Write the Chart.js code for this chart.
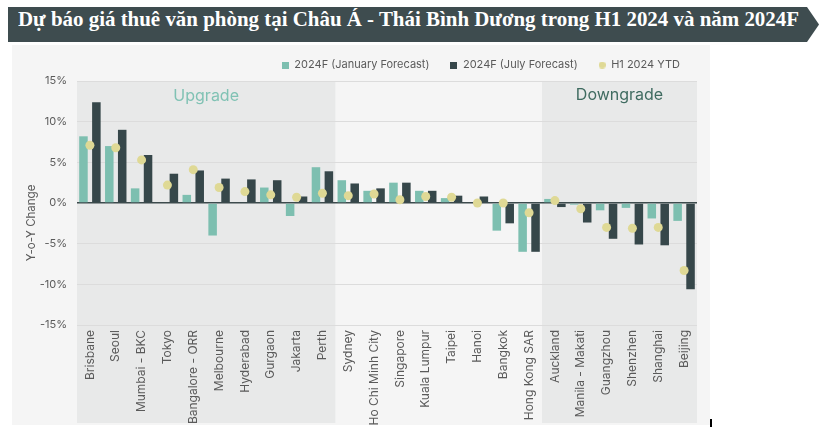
<!DOCTYPE html>
<html lang="vi">
<head>
<meta charset="utf-8">
<title>Dự báo giá thuê văn phòng</title>
<script src="https://cdn.jsdelivr.net/npm/chart.js@4.4.1/dist/chart.umd.min.js"></script>
<style>
    html, body { margin: 0; padding: 0; background: #fff; }
    body { width: 826px; height: 427px; position: relative; overflow: hidden; }
    #title-bar {
        position: absolute; left: 8px; top: 7px; width: 811px; height: 35px;
        background: #3e4c4f;
        clip-path: polygon(0 0, 799px 0, 811px 50%, 799px 100%, 0 100%);
    }
    #title-text {
        position: absolute; left: 10px; top: 0; line-height: 35px;
        color: #fff; font: bold 21px "Liberation Serif", "Times New Roman", serif;
        white-space: nowrap; transform-origin: 0 0;
    }
    #panel { position: absolute; left: 12px; top: 45px; width: 698px; height: 380px; background: #f5f5f5; }
    #chart-prodi { position: absolute; left: 0; top: 0; }
    #mark { position: absolute; left: 710px; top: 419px; width: 2px; height: 8px; background: #000; }
</style>
</head>
<body>
<div id="title-bar"><span id="title-text">Dự báo giá thuê văn phòng tại Châu Á - Thái Bình Dương trong H1 2024 và năm 2024F</span></div>
<div id="panel"></div>
<canvas id="chart-prodi" width="826" height="427"></canvas>
<div id="mark"></div>
<script>
const cities = [
    "Brisbane", "Seoul", "Mumbai - BKC", "Tokyo", "Bangalore - ORR", "Melbourne",
    "Hyderabad", "Gurgaon", "Jakarta", "Perth", "Sydney", "Ho Chi Minh City",
    "Singapore", "Kuala Lumpur", "Taipei", "Hanoi", "Bangkok", "Hong Kong SAR",
    "Auckland", "Manila - Makati", "Guangzhou", "Shenzhen", "Shanghai", "Beijing",
];
const janForecast = [8.2, 7.0, 1.8, 0, 1.0, -4.0, 0, 1.9, -1.6, 4.4, 2.8, 1.5, 2.5, 1.5, 0.6, 0, -3.4, -6.0, 0.5, -0.2, -0.9, -0.6, -1.9, -2.2];
const julyForecast = [12.4, 9.0, 5.9, 3.6, 4.0, 3.0, 2.9, 2.8, 0.8, 3.9, 2.4, 1.8, 2.5, 1.5, 0.9, 0.8, -2.5, -6.0, -0.5, -2.4, -4.4, -5.1, -5.2, -10.6];
const h1Ytd = [7.1, 6.8, 5.3, 2.2, 4.1, 1.9, 1.4, 1.0, 0.7, 1.2, 0.9, 1.1, 0.4, 0.8, 0.7, 0.0, 0.0, -1.2, 0.3, -0.7, -3.0, -3.1, -3.0, -8.3];
const seriesNames = ["2024F (January Forecast)", "2024F (July Forecast)", "H1 2024 YTD"];
const yTicks = [-15, -10, -5, 0, 5, 10, 15];
// nhóm: số thành phố đầu là Upgrade, cuối là Downgrade
const upgradeCount = 10;
const downgradeCount = 6;

const colTeal = "#7dbfb0";
const colDark = "#36474a";
const colDot = "#dfd995";
const colText = "#5a5a5a";
const fontName = "Inter";

// fit tiêu đề vào đúng bề rộng
const titleText = document.getElementById("title-text");
titleText.style.transform = `scaleX(${781 / titleText.getBoundingClientRect().width})`;

function legendIcon(color, round) {
    const c = document.createElement("canvas");
    c.width = 7;
    c.height = 7;
    const g = c.getContext("2d");
    g.fillStyle = color;
    if (round) {
        g.beginPath();
        g.arc(3.5, 3.5, 3.5, 0, Math.PI * 2);
        g.fill();
    } else {
        g.fillRect(0, 0, 7, 7);
    }
    return c;
}
const legendIcons = [legendIcon(colTeal), legendIcon(colDark), legendIcon(colDot, true)];

const regions = {
    id: "regions",
    beforeInit(chart) {
        const fit = chart.legend.fit;
        chart.legend.fit = function () {
            fit.call(this);
            this.height = 42.5;
        };
    },
    afterLayout(chart) {
        chart.legend.left += 4;
        chart.legend.right += 4;
    },
    beforeDraw(chart) {
        const { ctx, chartArea, scales } = chart;
        const step = chartArea.width / cities.length;
        const x0 = scales.x.getPixelForValue(0) - step / 2;
        const xd = scales.x.getPixelForValue(cities.length - downgradeCount) - step / 2;
        ctx.save();
        ctx.fillStyle = "#e8e9e9";
        ctx.fillRect(x0, chartArea.top, step * upgradeCount, 423 - chartArea.top);
        ctx.fillRect(xd, chartArea.top, step * downgradeCount, 423 - chartArea.top);
        ctx.restore();
    },
    afterDraw(chart) {
        const { ctx, chartArea, scales } = chart;
        const step = chartArea.width / cities.length;
        const x0 = scales.x.getPixelForValue(0) - step / 2;
        const xd = scales.x.getPixelForValue(cities.length - downgradeCount) - step / 2;
        ctx.save();
        ctx.textAlign = "center";
        ctx.textBaseline = "middle";
        ctx.font = "16px " + fontName;
        ctx.fillStyle = "#80c2b4";
        ctx.fillText("Upgrade", x0 + step * upgradeCount / 2, 96);
        ctx.fillStyle = "#3f6b60";
        ctx.fillText("Downgrade", xd + step * downgradeCount / 2, 95);

        ctx.translate(32, 223);
        ctx.rotate(-Math.PI / 2);
        ctx.font = "11.5px " + fontName;
        ctx.fillStyle = colText;
        ctx.fillText("Y-o-Y Change", 0, 0);
        ctx.restore();
    },
};

new Chart(document.getElementById("chart-prodi"), {
    type: "bar",
    data: {
        labels: cities,
        datasets: [
            {
                label: seriesNames[0],
                data: janForecast,
                backgroundColor: colTeal,
                order: 2,
            },
            {
                label: seriesNames[1],
                data: julyForecast,
                backgroundColor: colDark,
                order: 2,
            },
            {
                type: "line",
                label: seriesNames[2],
                data: h1Ytd,
                showLine: false,
                pointRadius: 4.5,
                pointBorderWidth: 0,
                pointBackgroundColor: colDot,
                backgroundColor: colDot,
                order: 1,
            },
        ],
    },
    options: {
        responsive: false,
        animation: false,
        devicePixelRatio: 1,
        layout: { padding: { top: 38.5, right: 129, bottom: 0, left: 0 } },
        datasets: {
            bar: { categoryPercentage: 1, barPercentage: 0.66, borderWidth: 0 },
        },
        plugins: {
            tooltip: { enabled: false },
            legend: {
                position: "top",
                align: "end",
                labels: {
                    usePointStyle: true,
                    boxWidth: 7,
                    boxHeight: 7,
                    padding: 21,
                    color: colText,
                    font: { family: fontName, size: 11 },
                    generateLabels(chart) {
                        const items = Chart.defaults.plugins.legend.labels.generateLabels(chart);
                        items.sort((a, b) => a.datasetIndex - b.datasetIndex);
                        items.forEach(it => { it.pointStyle = legendIcons[it.datasetIndex]; });
                        return items;
                    },
                },
            },
        },
        scales: {
            x: {
                afterFit(scale) { scale.height = 102; },
                grid: { display: false, drawTicks: false },
                border: { display: false },
                ticks: {
                    autoSkip: false,
                    minRotation: 90,
                    maxRotation: 90,
                    padding: 5,
                    color: colText,
                    font: { family: fontName, size: 12 },
                },
            },
            y: {
                min: -15,
                max: 15,
                afterFit(scale) { scale.width = 77; },
                afterBuildTicks(scale) { scale.ticks = yTicks.map(v => ({ value: v })); },
                grid: {
                    drawTicks: false,
                    color: ctx => ctx.tick && ctx.tick.value === 0 ? "#3d4b4d" : "#dcdcdc",
                    lineWidth: ctx => ctx.tick && ctx.tick.value === 0 ? 1.5 : 1,
                },
                border: { display: false },
                ticks: {
                    padding: 10,
                    color: colText,
                    font: { family: fontName, size: 11 },
                    callback: v => v + "%",
                },
            },
        },
    },
    plugins: [regions],
});
</script>
</body>
</html>
